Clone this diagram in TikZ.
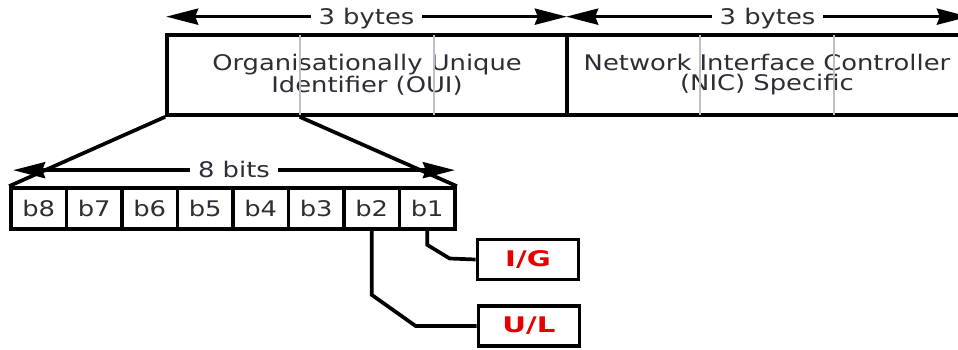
\documentclass[tikz,border=0pt]{standalone}
\usepackage{fontspec}
\setmainfont{DejaVu Sans}[FakeStretch=1.2]
\newfontfamily\flagfont{DejaVu Sans Bold}[FakeStretch=1.36]
\usetikzlibrary{arrows.meta,calc}
\definecolor{labelgray}{RGB}{45,45,55}
\definecolor{flagred}{RGB}{228,0,0}
\definecolor{divgray}{RGB}{192,192,192}
\begin{document}
\begin{tikzpicture}[x=1pt,y=-1pt,line width=3.7pt,
  field/.style={draw,minimum width=400pt,minimum height=80pt,inner sep=0pt,
    align=center,font=\fontsize{21.5}{20}\selectfont,text=labelgray},
  bitbox/.style={draw,minimum width=55.5pt,minimum height=41pt,inner sep=0pt,
    font=\fontsize{21.5}{20}\selectfont,text=labelgray},
  flagbox/.style={draw,minimum width=101pt,minimum height=40pt,inner sep=0pt,
    font=\fontsize{21.5}{24}\flagfont,text=flagred},
  spanlabel/.style={fill=white,inner xsep=8pt,inner ysep=2pt,anchor=base,
    font=\fontsize{21.5}{20}\selectfont,text=labelgray},
  dimline/.style={line width=3.4pt,
    {Stealth[length=32pt,width=16pt,inset=3pt]}-{Stealth[length=32pt,width=16pt,inset=3pt]}},
  divider/.style={draw=divgray,line width=2.4pt,shorten >=1.85pt,shorten <=1.85pt},
  wire/.style={line width=3.7pt,line join=miter}]
\useasboundingbox (0,0) rectangle (958,349);
\clip (0,0) rectangle (958,349);

% the two halves of the 48-bit address
\node[field] (oui) at (367,75) {Organisationally Unique\\Identifier (OUI)};
\node[field] (nic) at (767,75) {Network Interface Controller\\(NIC) Specific};

% byte boundaries inside each half
\foreach \f in {oui,nic}{
  \draw[divider] ($(\f.north west)!1/3!(\f.north east)$) -- ($(\f.south west)!1/3!(\f.south east)$);
  \draw[divider] ($(\f.north west)!2/3!(\f.north east)$) -- ($(\f.south west)!2/3!(\f.south east)$);
}
\coordinate (firstbyte) at ($(oui.south west)!1/3!(oui.south east)$);

% byte widths
\draw[dimline] ($(oui.north west)+(1,-16.5)$) -- ($(oui.north east)+(-2,-16.5)$)
  node[spanlabel,midway,yshift=-7.5pt] {3 bytes};
\draw[dimline] ($(nic.north west)+(1,-16.5)$) -- ($(nic.north east)+(0,-16.5)$)
  node[spanlabel,midway,yshift=-7.5pt] {3 bytes};

% bits of the first octet
\foreach \i [count=\k from 0] in {8,7,...,1}
  \node[bitbox] (b\i) at ({38.75+55.5*\k},208.5) {b\i};

% expansion of the first octet
\draw[wire] (oui.south west) -- (b8.north west);
\draw[wire] (firstbyte) -- (b1.north east);

\draw[dimline]
  ($(b8.north west)+(4,-16)$) -- ($(b1.north east)+(-2,-16)$)
  node[spanlabel,midway,yshift=-7.5pt] {8 bits};

% flag bits
\node[flagbox] (ig) at (528,259.5) {I/G};
\node[flagbox] (ul) at (529,326) {U/L};

\draw[wire] (b1.south) -- ++(0,14) -- ($(ig.west)+(-26,-1)$) -- (ig.west);
\draw[wire] (b2.south) -- ++(0,64) -- ($(ul.west)+(-61,0)$) -- (ul.west);
\end{tikzpicture}
\end{document}
